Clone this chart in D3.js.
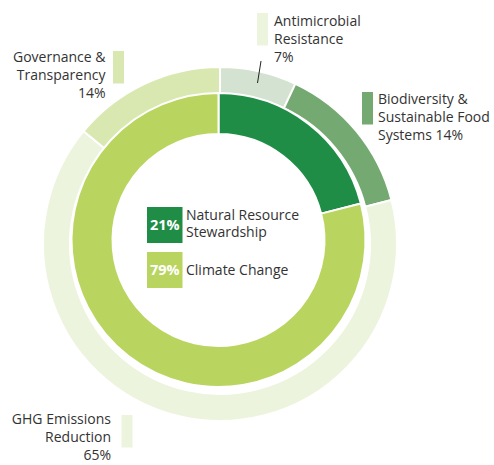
<!DOCTYPE html>
<html>
<head>
<meta charset="utf-8">
<script src="https://cdn.jsdelivr.net/npm/d3@7"></script>
<style>
  body { margin: 0; background: #fff; }
  svg { display: block; }
  .lbl { font: 14px "Open Sans", sans-serif; fill: #333; }
  .pct { font: bold 14.5px "Open Sans", sans-serif; fill: #fff; }
</style>
</head>
<body>
<svg id="chart" width="494" height="465"></svg>
<script>
  // outer ring: sub-themes
  const subThemes = ["Antimicrobial Resistance", "Biodiversity & Sustainable Food Systems", "GHG Emissions Reduction", "Governance & Transparency"];
  const subValues = [7, 14, 65, 14];
  const subColors = ["#d4e2d1", "#74a971", "#ecf4de", "#d9e8b1"];
  const subSwatch = ["#ecf4de", "#74a971", "#ecf4de", "#d9e8b1"];

  // inner ring: main themes
  const mainThemes = ["Natural Resource Stewardship", "Climate Change"];
  const mainValues = [21, 79];
  const mainColors = ["#1f8d46", "#b9d55f"];

  const svg = d3.select("#chart");
  const pie = d3.pie().sort(null).value(d => d);

  // outer ring
  const outerArc = d3.arc().innerRadius(150).outerRadius(177);
  svg.append("g")
    .attr("transform", "translate(220,244)")
    .selectAll("path")
    .data(pie(subValues))
    .join("path")
      .attr("d", outerArc)
      .attr("fill", (d, i) => subColors[i])
      .attr("stroke", "#fff")
      .attr("stroke-width", 2);

  // inner ring
  const innerArc = d3.arc().innerRadius(106).outerRadius(147);
  svg.append("g")
    .attr("transform", "translate(218.5,240)")
    .selectAll("path")
    .data(pie(mainValues))
    .join("path")
      .attr("d", innerArc)
      .attr("fill", (d, i) => mainColors[i])
      .attr("stroke", "#fff")
      .attr("stroke-width", 2);

  // leader line for Antimicrobial Resistance
  svg.append("line")
    .attr("x1", 261).attr("y1", 61).attr("x2", 257.5).attr("y2", 83)
    .attr("stroke", "#222").attr("stroke-width", 1);

  // outer labels: swatch box + text lines
  const subLines = [
    ["Antimicrobial", "Resistance", "7%"],
    ["Biodiversity &", "Sustainable Food", "Systems 14%"],
    ["GHG Emissions", "Reduction", "65%"],
    ["Governance &", "Transparency", "14%"]
  ];
  const subLayout = [
    { sx: 257, sy: 13, tx: 274, ty: 26, anchor: "start" },
    { sx: 362, sy: 92, tx: 378, ty: 104, anchor: "start" },
    { sx: 121.5, sy: 415, tx: 111, ty: 424, anchor: "end" },
    { sx: 113, sy: 51, tx: 105.5, ty: 61.5, anchor: "end" }
  ];

  subLayout.forEach((p, i) => {
    svg.append("rect")
      .attr("x", p.sx).attr("y", p.sy).attr("width", 11).attr("height", 32.5)
      .attr("fill", subSwatch[i]);
    const t = svg.append("text")
      .attr("class", "lbl")
      .attr("text-anchor", p.anchor);
    subLines[i].forEach((line, j) => {
      t.append("tspan").attr("x", p.tx).attr("y", p.ty + j * 18.2).text(line);
    });
  });

  // centre legend
  const mainLines = [["Natural Resource", "Stewardship"], ["Climate Change"]];
  const legend = svg.append("g").attr("transform", "translate(147,207)");
  mainThemes.forEach((name, i) => {
    const g = legend.append("g").attr("transform", `translate(0,${i * 45})`);
    g.append("rect").attr("width", 35.5).attr("height", 36).attr("fill", mainColors[i]);
    g.append("text").attr("class", "pct")
      .attr("x", 17.75).attr("y", 23).attr("text-anchor", "middle")
      .text(mainValues[i] + "%");
    const t = g.append("text").attr("class", "lbl");
    const lines = mainLines[i];
    const y0 = lines.length === 1 ? 22.5 : 12.5;
    lines.forEach((line, j) => {
      t.append("tspan").attr("x", 39).attr("y", y0 + j * 17.5).text(line);
    });
  });
</script>
</body>
</html>
